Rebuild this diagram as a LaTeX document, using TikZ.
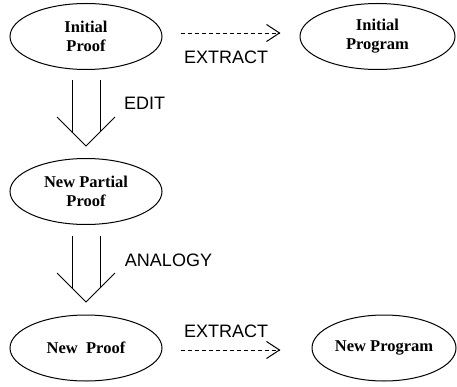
\documentclass[tikz,border=0pt]{standalone}
\usepackage{fontspec}
\setmainfont{Liberation Serif}
\setsansfont{Liberation Sans}
\usetikzlibrary{shapes.geometric}
\tikzset{
  proofnode/.style={draw, ellipse, line width=1pt, inner sep=0pt, minimum width=152pt, minimum height=66pt,
    align=center, font=\fontsize{16.5}{19}\selectfont\bfseries},
  steplabel/.style={font=\sffamily\fontsize{18}{20}\selectfont, inner sep=0pt},
  extractline/.style={line width=0.9pt, dash pattern=on 4pt off 3pt},
  chevron/.style={line width=1pt},
  dblarrow/.pic={
    \draw[line width=1pt] (-14,-10) -- (-14,-62) (14,-10) -- (14,-62);
    \draw[line width=1pt] (-29,-47) -- (0,-76) -- (29,-47);
  }
}
\begin{document}
\begin{tikzpicture}[x=1pt,y=1pt]
\useasboundingbox (0,0) rectangle (457,386);
\node[proofnode] (A) at (86,349.5) {Initial\\Proof};
\node[proofnode, minimum width=155pt] (B) at (377.5,349.5) {Initial\\Program};
\node[proofnode] (C) at (86,194.5) {New Partial\\Proof};
\node[proofnode] (D) at (86,38) {New\ \ Proof};
\node[proofnode, minimum width=144pt] (E) at (384,38) {New Program};

\coordinate (t1) at ([xshift=-20pt,yshift=3.5pt]B.west);
\draw[extractline] ([xshift=18pt,yshift=3.5pt]A.east) -- (t1);
\draw[chevron] (t1) ++(-13,8.5) -- (t1) -- ++(-13,-8.5);
\node[steplabel] (x1) at (226,329) {EXTRACT};

\coordinate (t2) at ([xshift=-32pt,yshift=-2pt]E.west);
\draw[extractline] ([xshift=18pt,yshift=-2pt]D.east) -- (t2);
\draw[chevron] (t2) ++(-13,8.5) -- (t2) -- ++(-13,-8.5);
\node[steplabel] (x2) at (226,55) {EXTRACT};

\pic at (A.south) {dblarrow};
\node[steplabel] (edit) at (144.5,283) {EDIT};

\pic at ([yshift=-1pt]C.south) {dblarrow};
\node[steplabel] (analogy) at (168.5,125.5) {ANALOGY};
\end{tikzpicture}
\end{document}
